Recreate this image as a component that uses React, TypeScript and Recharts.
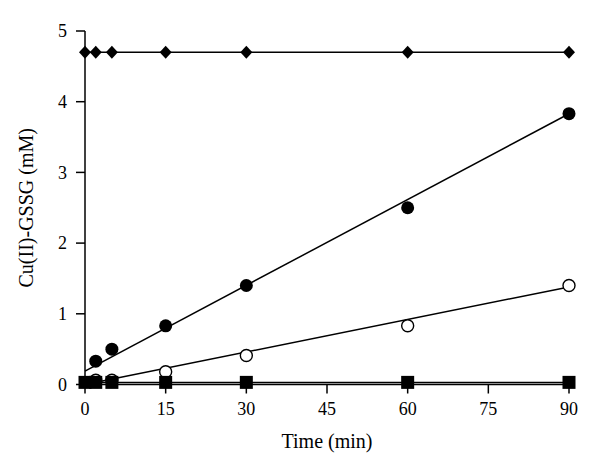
import { ComposedChart, Line, Scatter, XAxis, YAxis, Label } from "recharts";

const time = [0, 2, 5, 15, 30, 60, 90];
const diamondVals = [4.7, 4.7, 4.7, 4.7, 4.7, 4.7, 4.7];
const squareVals = [0.03, 0.03, 0.03, 0.03, 0.03, 0.03, 0.03];

const circleTime = [2, 5, 15, 30, 60, 90];
const filledVals = [0.33, 0.5, 0.83, 1.4, 2.5, 3.83];
const openVals = [0.06, 0.06, 0.18, 0.41, 0.83, 1.4];

const fitTime = [0, 90];
const diamondFit = [4.7, 4.7];
const filledFit = [0.19, 3.83];
const openFit = [0.0, 1.38];
const squareFit = [0.03, 0.03];

const xTicks = [0, 15, 30, 45, 60, 75, 90];
const yTicks = [0, 1, 2, 3, 4, 5];

const pts = (xs: number[], ys: number[]) => xs.map((x, i) => ({ t: x, v: ys[i] }));

const font = "'Liberation Serif', 'DejaVu Serif', serif";
const tick = { fontSize: 18, fill: "#000", fontFamily: font };

const Diamond = ({ cx, cy }: any) => (
  <path d={`M${cx},${cy - 6.5}L${cx + 6},${cy}L${cx},${cy + 6.5}L${cx - 6},${cy}Z`} fill="#000" />
);
const FilledDot = ({ cx, cy }: any) => <circle cx={cx} cy={cy} r={6.5} fill="#000" />;
const OpenDot = ({ cx, cy }: any) => (
  <circle cx={cx} cy={cy} r={6} fill="#fff" stroke="#000" strokeWidth={1.4} />
);
const Square = ({ cx, cy }: any) => <rect x={cx - 6.5} y={cy - 6.5} width={13} height={13} fill="#000" />;

export default function App() {
  return (
    <div style={{ position: "absolute", left: 0, top: 0, background: "#fff" }}>
      <ComposedChart width={600} height={472} margin={{ top: 31, right: 31, left: 0, bottom: 0 }}>
        <XAxis
          dataKey="t"
          type="number"
          domain={[0, 90]}
          ticks={xTicks}
          height={87.5}
          tick={tick}
          tickSize={9}
          tickMargin={9}
          axisLine={{ stroke: "#000", strokeWidth: 1.5 }}
          tickLine={{ stroke: "#000", strokeWidth: 1.5 }}
        >
          <Label value="Time (min)" position="insideBottom" offset={24} style={{ fontSize: 20, fill: "#000", fontFamily: font }} />
        </XAxis>
        <YAxis
          dataKey="v"
          type="number"
          domain={[0, 5]}
          ticks={yTicks}
          width={85}
          tick={tick}
          tickSize={9}
          tickMargin={9}
          axisLine={{ stroke: "#000", strokeWidth: 1.5 }}
          tickLine={{ stroke: "#000", strokeWidth: 1.5 }}
        >
          <Label value="Cu(II)-GSSG (mM)" angle={-90} position="insideLeft" offset={26} style={{ fontSize: 20, fill: "#000", fontFamily: font, textAnchor: "middle" }} />
        </YAxis>
        <Line data={pts(fitTime, diamondFit)} dataKey="v" stroke="#000" strokeWidth={1.5} dot={false} isAnimationActive={false} />
        <Line data={pts(fitTime, filledFit)} dataKey="v" stroke="#000" strokeWidth={1.5} dot={false} isAnimationActive={false} />
        <Line data={pts(fitTime, openFit)} dataKey="v" stroke="#000" strokeWidth={1.5} dot={false} isAnimationActive={false} />
        <Line data={pts(fitTime, squareFit)} dataKey="v" stroke="#000" strokeWidth={1.5} dot={false} isAnimationActive={false} />
        <Scatter data={pts(circleTime, openVals)} dataKey="v" shape={<OpenDot />} isAnimationActive={false} />
        <Scatter data={pts(time, squareVals)} dataKey="v" shape={<Square />} isAnimationActive={false} />
        <Scatter data={pts(circleTime, filledVals)} dataKey="v" shape={<FilledDot />} isAnimationActive={false} />
        <Scatter data={pts(time, diamondVals)} dataKey="v" shape={<Diamond />} isAnimationActive={false} />
      </ComposedChart>
    </div>
  );
}
